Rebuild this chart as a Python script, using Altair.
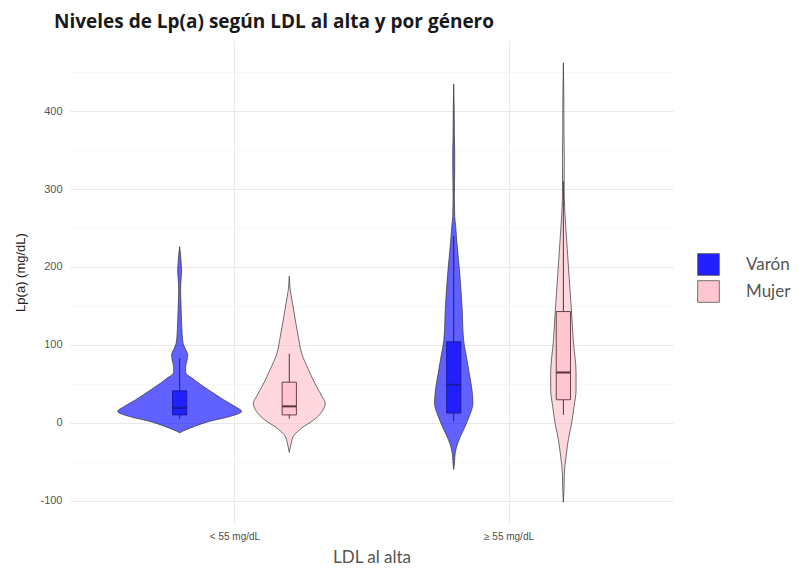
import altair as alt
import pandas as pd

# ---------------- data ----------------
groups = ["< 55 mg/dL", "≥ 55 mg/dL"]
genders = ["Varón", "Mujer"]

# violin profiles: Lp(a) value (mg/dL) and relative density (% of widest)
var_lo_val = [-13, -11, -4.7, 1.7, 8, 14.5, 21, 29.5, 42, 55, 65, 72, 80, 87, 94, 102, 115, 128, 148, 170, 185, 195, 205, 215, 226]
var_lo_den = [0, 4.8, 24, 48, 81, 100, 89, 71, 47, 24, 9.7, 9.7, 12, 13, 9.7, 5.6, 4, 3.2, 2.4, 1.6, 2.4, 3.2, 2.4, 1.6, 0]

muj_lo_val = [-38, -26, -17.5, -6.8, 3.8, 14.5, 25, 33.7, 46.5, 68, 89, 110.6, 132, 153, 170.5, 188]
muj_lo_den = [0, 3.2, 6.5, 20, 40, 53, 58, 53, 44, 31, 20, 14.5, 9.7, 5.3, 1.6, 0]

var_hi_val = [-60, -50, -39, -26, -9, 8, 25, 42, 63.7, 85, 106, 149, 192, 234.6, 252, 265, 290, 320, 345, 370, 400, 435]
var_hi_den = [0, 1.3, 2.4, 6.5, 16, 25, 31, 29.5, 25, 20.5, 16, 13.4, 9.7, 4.8, 3.2, 1.6, 1, 1.5, 1.6, 1, 0.8, 0]

muj_hi_val = [-102, -85, -64.5, -43, -21.8, -0.4, 21, 42, 63.7, 106, 149, 192, 234.6, 250, 271, 300, 340, 370, 420, 462]
muj_hi_den = [0, 1, 1.6, 4.4, 8, 13.4, 17.3, 20.5, 20.5, 16, 12.6, 8.9, 5.3, 4, 2.4, 1.3, 1.5, 1, 0.8, 0]

# boxplot statistics per (group, gender): lower whisker, q1, median, q3, upper whisker
box_group = ["< 55 mg/dL", "< 55 mg/dL", "≥ 55 mg/dL", "≥ 55 mg/dL"]
box_gender = ["Varón", "Mujer", "Varón", "Mujer"]
box_low = [5, 5, 2, 10]
box_q1 = [10, 10, 12.4, 29.5]
box_med = [19, 21, 48.7, 64.5]
box_q3 = [41, 52, 104, 142.7]
box_up = [83, 88.5, 240, 310]

# ---------------- tables ----------------
profiles = {
    ("< 55 mg/dL", "Varón"): (var_lo_val, var_lo_den),
    ("< 55 mg/dL", "Mujer"): (muj_lo_val, muj_lo_den),
    ("≥ 55 mg/dL", "Varón"): (var_hi_val, var_hi_den),
    ("≥ 55 mg/dL", "Mujer"): (muj_hi_val, muj_hi_den),
}
rows = []
for (g, s), (vals, dens) in profiles.items():
    for v, d in zip(vals, dens):
        rows.append({"grupo": g, "genero": s, "gi": groups.index(g), "si": genders.index(s),
                     "clave": g + s, "valor": v, "dens": d})
violin_df = pd.DataFrame(rows).sort_values(["clave", "valor"])

box_df = pd.DataFrame({
    "grupo": box_group, "genero": box_gender,
    "gi": [groups.index(g) for g in box_group],
    "si": [genders.index(s) for s in box_gender],
    "low": box_low, "q1": box_q1, "med": box_med, "q3": box_q3, "up": box_up,
})

DODGE = 0.2
HALF_MAX = 0.226
BOX_HALF = 0.026
center_expr = f"datum.gi + 1 + (datum.si == 0 ? {-DODGE} : {DODGE})"

xscale = alt.Scale(domain=[0.4, 2.6], nice=False, zero=False)
yscale = alt.Scale(domain=[-130, 490], nice=False, zero=False)

label_expr = f"datum.value == 1 ? '{groups[0]}' : '{groups[1]}'"
xaxis = alt.Axis(
    values=[1, 2], labelExpr=label_expr, title="LDL al alta",
    grid=True, gridColor="#ebebeb", gridWidth=1, ticks=False, domain=False,
    labelFont="Liberation Sans", labelFontSize=10, labelColor="#4d4d4d", labelPadding=7,
    titleFont="Lato", titleFontSize=17, titleColor="#555555", titleFontWeight="normal",
    titlePadding=8,
)
yaxis = alt.Axis(
    values=list(range(-100, 451, 50)),
    labelExpr="datum.value % 100 === 0 ? replace(datum.label, '−', '-') : ''",
    title="Lp(a) (mg/dL)",
    grid=True,
    gridColor={"condition": {"test": "datum.value % 100 !== 0", "value": "#f4f4f4"}, "value": "#e8e8e8"},
    gridWidth={"condition": {"test": "datum.value % 100 !== 0", "value": 0.6}, "value": 1},
    ticks=False, domain=False,
    labelFont="Liberation Sans", labelFontSize=11, labelColor="#555555", labelPadding=8,
    titleFont="Liberation Sans", titleFontSize=13, titleColor="#222222", titleFontWeight="normal",
    titleX=-50, titleY=231, titleAlign="center", titleBaseline="middle", titleAngle=-90,
)

violins = alt.Chart(violin_df).transform_calculate(
    center=center_expr,
).transform_calculate(
    left=f"datum.center - datum.dens / 100 * {HALF_MAX}",
    right=f"datum.center + datum.dens / 100 * {HALF_MAX}",
).mark_area(
    orient="horizontal", interpolate="monotone", fillOpacity=0.62,
    stroke="#333333", strokeWidth=0.7,
).encode(
    y=alt.Y("valor:Q", scale=yscale, axis=yaxis),
    x=alt.X("left:Q", scale=xscale, axis=xaxis),
    x2="right:Q",
    fill=alt.Fill("genero:N", scale=alt.Scale(domain=genders, range=["#0000ff", "#ffc0cb"]), legend=None),
    detail="clave:N",
)

box_base = alt.Chart(box_df).transform_calculate(
    center=center_expr,
).transform_calculate(
    bl=f"datum.center - {BOX_HALF}",
    br=f"datum.center + {BOX_HALF}",
)

stroke_scale = alt.Scale(domain=genders, range=["#1a1a9a", "#5a3038"])

whisk_up = box_base.mark_rule(strokeWidth=1).encode(
    x=alt.X("center:Q", scale=xscale),
    y=alt.Y("q3:Q", scale=yscale),
    y2="up:Q",
    stroke=alt.Stroke("genero:N", scale=stroke_scale, legend=None),
)
whisk_lo = box_base.mark_rule(strokeWidth=1).encode(
    x=alt.X("center:Q", scale=xscale),
    y=alt.Y("low:Q", scale=yscale),
    y2="q1:Q",
    stroke=alt.Stroke("genero:N", scale=stroke_scale, legend=None),
)
boxes = box_base.mark_rect(strokeWidth=0.9).encode(
    x=alt.X("bl:Q", scale=xscale),
    x2="br:Q",
    y=alt.Y("q1:Q", scale=yscale),
    y2="q3:Q",
    fill=alt.Fill(
        "genero:N",
        scale=alt.Scale(domain=genders, range=["#2020ff", "#ffc6d0"]),
        legend=alt.Legend(
            title=None, orient="none", legendX=627, legendY=212, padding=0,
            symbolType="square", symbolSize=470, symbolStrokeColor="#555555",
            symbolStrokeWidth=0.8, symbolOpacity=1,
            labelFont="Lato", labelFontSize=17, labelColor="#555555", labelOffset=26,
            rowPadding=2,
        ),
    ),
    stroke=alt.Stroke("genero:N", scale=stroke_scale, legend=None),
)
medians = box_base.mark_rule(strokeWidth=2).encode(
    x=alt.X("bl:Q", scale=xscale),
    x2="br:Q",
    y=alt.Y("med:Q", scale=yscale),
    stroke=alt.Stroke("genero:N", scale=stroke_scale, legend=None),
)

chart = alt.layer(violins, whisk_up, whisk_lo, boxes, medians).resolve_scale(
    fill="independent"
).properties(
    width=603, height=483,
    autosize=alt.AutoSizeParams(type="none"),
    padding={"left": 62, "top": 33, "right": 127, "bottom": 42},
    title=alt.TitleParams(
        "Niveles de Lp(a) según LDL al alta y por género",
        font="Open Sans", fontSize=19, fontWeight="bold", color="#1a1a1a",
        anchor="start", frame="group", dx=-16, dy=19, offset=13, baseline="alphabetic",
    ),
).configure_view(stroke=None)

chart.save("out.html", embed_options={"renderer": "svg", "actions": False})
